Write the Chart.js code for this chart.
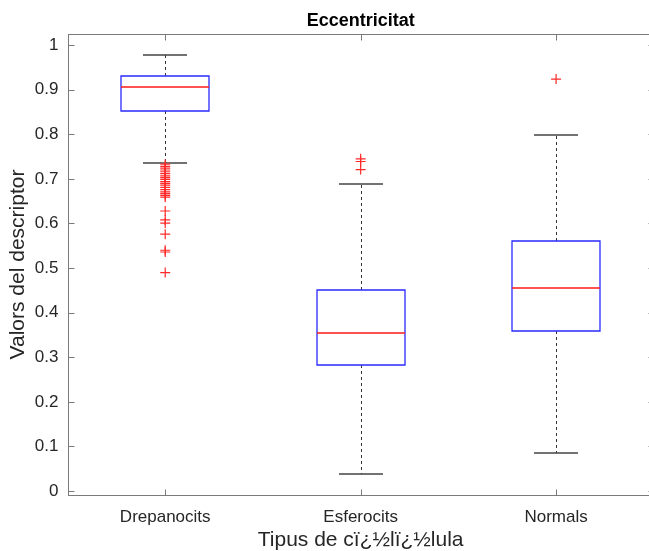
<!DOCTYPE html>
<html>
<head>
<meta charset="utf-8">
<script src="https://cdn.jsdelivr.net/npm/chart.js@4.4.1/dist/chart.umd.min.js"></script>
<style>
  html, body { margin: 0; padding: 0; background: #fff; overflow: hidden; }
  #wrap { width: 660px; height: 551px; }
</style>
</head>
<body>
<div id="wrap"><canvas id="boxChart"></canvas></div>
<script>
// categories and box statistics
const categories = ['Drepanocits', 'Esferocits', 'Normals'];
const whiskerLow  = [0.736, 0.037, 0.085];
const q1          = [0.853, 0.283, 0.359];
const median      = [0.907, 0.354, 0.455];
const q3          = [0.931, 0.451, 0.561];
const whiskerHigh = [0.978, 0.688, 0.798];

// outliers per category
const outliersDrepanocits = [0.733, 0.728, 0.724, 0.720, 0.716, 0.712, 0.707, 0.703, 0.699,
  0.694, 0.690, 0.686, 0.681, 0.676, 0.671, 0.667, 0.663, 0.659,
  0.628, 0.608, 0.601, 0.576, 0.540, 0.536, 0.490];
const outliersEsferocits = [0.745, 0.739, 0.721];
const outliersNormals = [0.924];

const yTicks = [0, 0.1, 0.2, 0.3, 0.4, 0.5, 0.6, 0.7, 0.8, 0.9, 1];

const outlierPoints = [];
[outliersDrepanocits, outliersEsferocits, outliersNormals].forEach((list, i) => {
  list.forEach(v => outlierPoints.push({ x: i + 1, y: v }));
});

const FONT = 'Liberation Sans, Arial, sans-serif';
const AXIS_COLOR = '#7a7a7a';
const TEXT_COLOR = '#262626';
const BOX_HALF = 0.225;
const CAP_HALF = 0.1125;

// draws boxes, medians, whiskers and caps through the chart scales
const boxPlugin = {
  id: 'boxes',
  beforeDatasetsDraw(chart) {
    const { ctx, scales: { x, y } } = chart;
    ctx.save();
    categories.forEach((c, i) => {
      const cx = Math.round(x.getPixelForValue(i + 1)) + 0.5;
      const bl = Math.round(x.getPixelForValue(i + 1 - BOX_HALF));
      const br = Math.round(x.getPixelForValue(i + 1 + BOX_HALF));
      const cl = Math.round(x.getPixelForValue(i + 1 - CAP_HALF));
      const cr = Math.round(x.getPixelForValue(i + 1 + CAP_HALF));
      const yq1 = Math.round(y.getPixelForValue(q1[i]));
      const yq3 = Math.round(y.getPixelForValue(q3[i]));
      const ymed = Math.round(y.getPixelForValue(median[i]));
      const ylo = Math.round(y.getPixelForValue(whiskerLow[i]));
      const yhi = Math.round(y.getPixelForValue(whiskerHigh[i]));

      // whiskers
      ctx.lineWidth = 1;
      ctx.strokeStyle = '#333333';
      ctx.setLineDash([3, 3]);
      ctx.beginPath();
      ctx.moveTo(cx, yq3); ctx.lineTo(cx, yhi);
      ctx.moveTo(cx, yq1); ctx.lineTo(cx, ylo);
      ctx.stroke();
      ctx.setLineDash([]);

      // caps
      ctx.lineWidth = 1.3;
      ctx.strokeStyle = '#444444';
      ctx.beginPath();
      ctx.moveTo(cl, yhi); ctx.lineTo(cr, yhi);
      ctx.moveTo(cl, ylo); ctx.lineTo(cr, ylo);
      ctx.stroke();

      // box
      ctx.lineWidth = 1.3;
      ctx.strokeStyle = '#2a2aff';
      ctx.beginPath();
      ctx.rect(bl, yq3, br - bl, yq1 - yq3);
      ctx.stroke();

      // median
      ctx.strokeStyle = '#ff1a1a';
      ctx.beginPath();
      ctx.moveTo(bl, ymed); ctx.lineTo(br, ymed);
      ctx.stroke();
    });
    ctx.restore();
  },
  afterDraw(chart) {
    // full axes box and inward ticks, matlab style
    const { ctx, chartArea: a, scales: { x, y } } = chart;
    ctx.save();
    ctx.strokeStyle = AXIS_COLOR;
    ctx.lineWidth = 1;
    const L = Math.round(a.left) + 0.5, R = Math.round(a.right) + 0.5;
    const T = Math.round(a.top) + 0.5, B = Math.round(a.bottom) + 0.5;
    ctx.strokeRect(L, T, R - L, B - T);
    ctx.beginPath();
    yTicks.forEach(v => {
      const py = Math.round(y.getPixelForValue(v)) + 0.5;
      ctx.moveTo(L, py); ctx.lineTo(L + 6, py);
      ctx.moveTo(R, py); ctx.lineTo(R - 6, py);
    });
    categories.forEach((c, i) => {
      const px = Math.round(x.getPixelForValue(i + 1)) + 0.5;
      ctx.moveTo(px, B); ctx.lineTo(px, B - 6);
      ctx.moveTo(px, T); ctx.lineTo(px, T + 6);
    });
    ctx.stroke();
    ctx.restore();
  }
};

const ctx = document.getElementById('boxChart').getContext('2d');
const boxChart = new Chart(ctx, {
  type: 'scatter',
  data: {
    datasets: [{
      label: 'Outliers',
      data: outlierPoints,
      pointStyle: 'cross',
      pointRadius: 5,
      borderColor: '#ff2a2a',
      borderWidth: 1.2,
      backgroundColor: '#ff2a2a'
    }]
  },
  options: {
    responsive: true,
    maintainAspectRatio: false,
    animation: false,
    layout: { padding: { left: 0, right: 6, top: 0, bottom: 0 } },
    plugins: {
      legend: { display: false },
      tooltip: { enabled: false },
      title: {
        display: true,
        text: 'Eccentricitat',
        fullSize: false,
        color: '#000',
        font: { family: FONT, size: 18, weight: 'bold' },
        padding: { top: 10, bottom: 2.4 }
      }
    },
    scales: {
      x: {
        type: 'linear',
        min: 0.5,
        max: 3.5,
        afterBuildTicks: scale => { scale.ticks = categories.map((c, i) => ({ value: i + 1 })); },
        afterFit: scale => { scale.height = 56; },
        grid: { display: false, drawTicks: false },
        border: { display: false },
        ticks: {
          color: TEXT_COLOR,
          padding: 12,
          font: { family: FONT, size: 17 },
          callback: v => categories[v - 1]
        },
        title: {
          display: true,
          text: 'Tipus de cï¿½lï¿½lula',
          color: TEXT_COLOR,
          font: { family: FONT, size: 21, lineHeight: 1 },
          padding: { top: 0, bottom: 0 }
        }
      },
      y: {
        min: -0.009,
        max: 1.025,
        afterBuildTicks: scale => { scale.ticks = yTicks.map(v => ({ value: v })); },
        afterFit: scale => { scale.width = 67.5; },
        grid: { display: false, drawTicks: false },
        border: { display: false },
        ticks: {
          color: TEXT_COLOR,
          padding: 9,
          font: { family: FONT, size: 17 },
          callback: v => String(Math.round(v * 10) / 10)
        },
        title: {
          display: true,
          text: 'Valors del descriptor',
          color: TEXT_COLOR,
          font: { family: FONT, size: 21, lineHeight: 1 },
          padding: { top: 7.5, bottom: 0 }
        }
      }
    }
  },
  plugins: [boxPlugin]
});
</script>
</body>
</html>
